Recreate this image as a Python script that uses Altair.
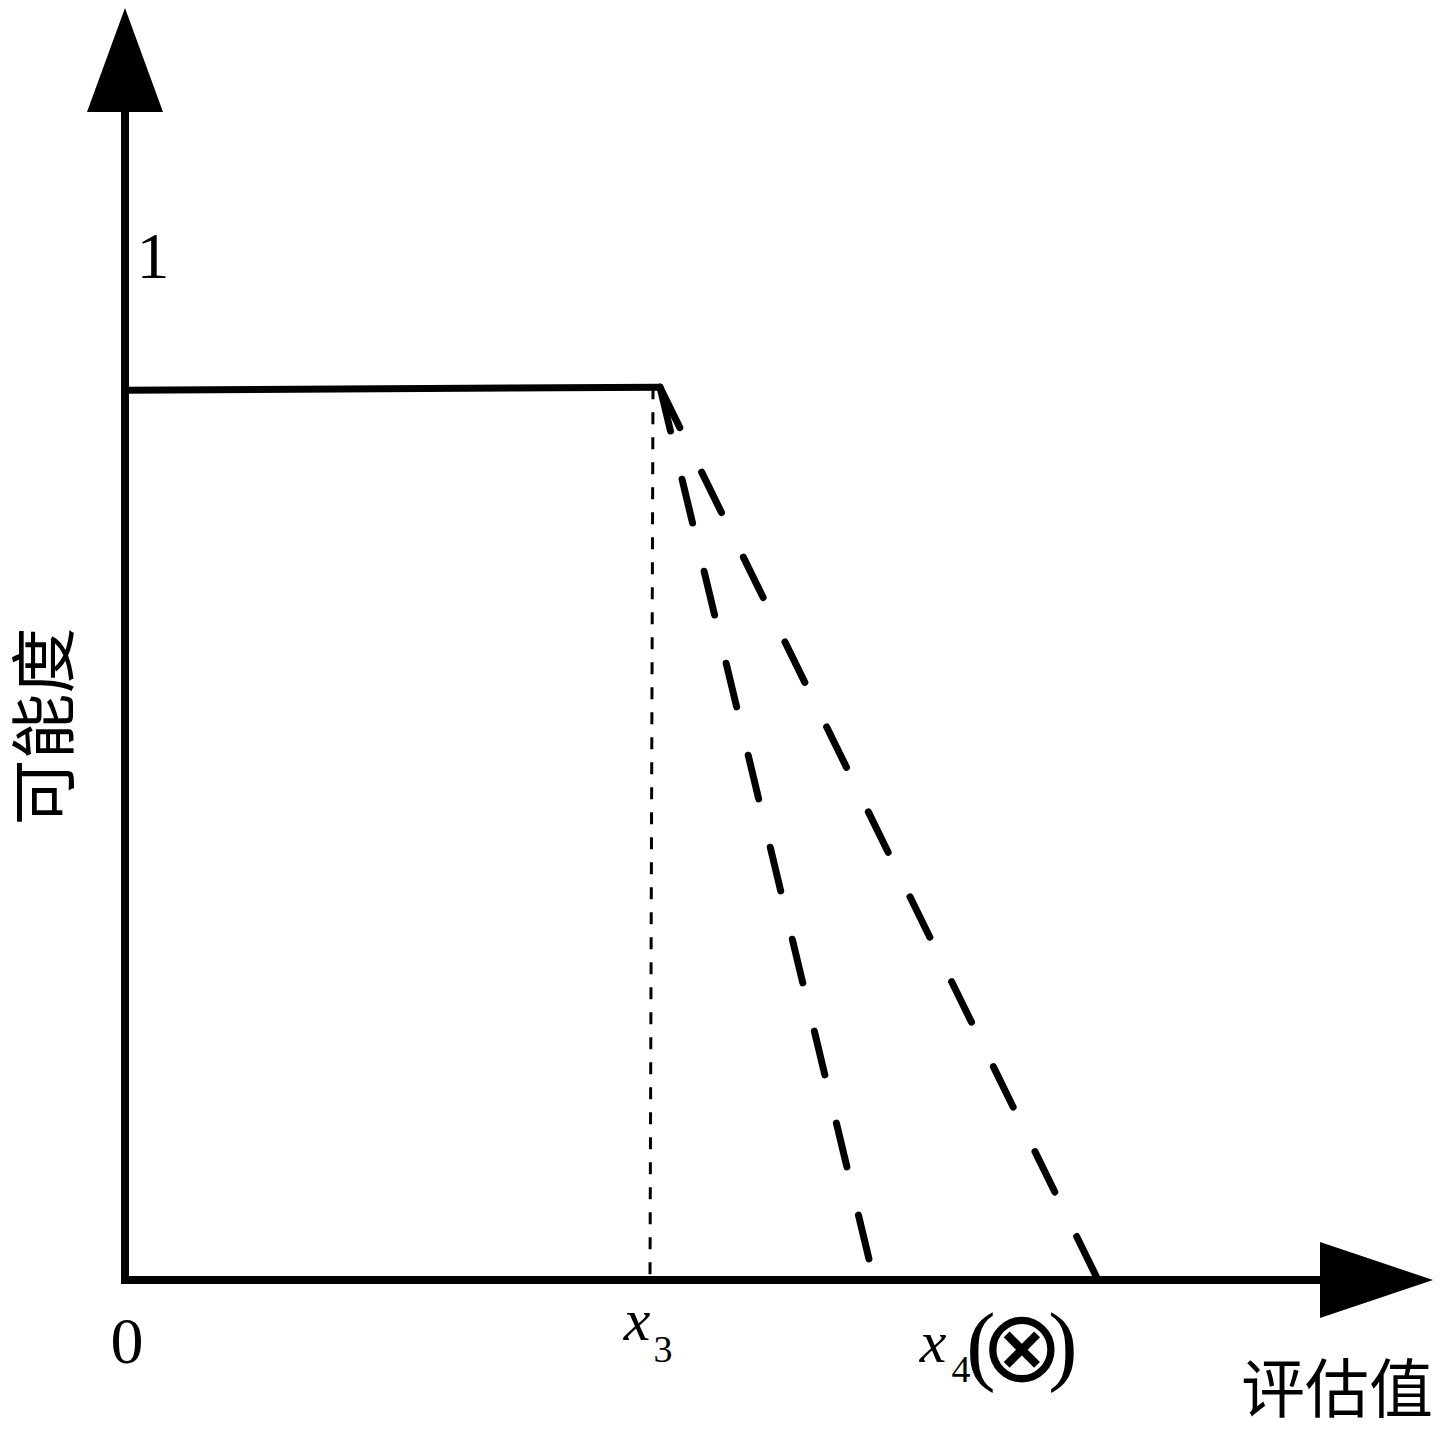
import altair as alt
import pandas as pd

# ---- values (abstract units) ----
X3 = 5.26                 # position of x3 (dotted guide)
PEAK_X = 5.35             # end of the plateau
PLATEAU_Y = [0.868, 0.871]
X4_ENDS = [7.49, 9.73]    # where the two dashed slopes reach zero
SERIES = ["a", "b"]
X_AXIS_END = 11.95
Y_AXIS_END = 1.1395

# scale extents (whole view)
W, H = 1430, 1412
XMIN, XMAX = -1.17, 13.13
YMIN, YMAX = -0.13659, 1.24098

xs = alt.Scale(domain=[XMIN, XMAX], nice=False, zero=False)
ys = alt.Scale(domain=[YMIN, YMAX], nice=False, zero=False)

def X(f="x"):
    return alt.X(f"{f}:Q", scale=xs, axis=None)

def Y(f="y"):
    return alt.Y(f"{f}:Q", scale=ys, axis=None)

# axes
axes_df = pd.DataFrame({
    "x": [0, 0], "x2": [X_AXIS_END, 0],
    "y": [0, 0], "y2": [0, Y_AXIS_END],
})
axes = alt.Chart(axes_df).mark_rule(color="black", strokeWidth=8, strokeCap="square").encode(
    x=X(), x2="x2:Q", y=Y(), y2="y2:Q")

arrow_up = alt.Chart(pd.DataFrame({"x": [0], "y": [Y_AXIS_END]})).mark_point(
    shape="M-0.731,0 L0,-2 L0.731,0 Z", size=104 * 104, filled=True, fill="black",
    strokeWidth=0, opacity=1).encode(x=X(), y=Y())
arrow_right = alt.Chart(pd.DataFrame({"x": [X_AXIS_END], "y": [0]})).mark_point(
    shape="M0,-0.673 L2,0 L0,0.673 Z", size=113 * 113, filled=True, fill="black",
    strokeWidth=0, opacity=1).encode(x=X(), y=Y())

# plateau
plateau_df = pd.DataFrame({"x": [0, PEAK_X], "y": PLATEAU_Y})
plateau = alt.Chart(plateau_df).mark_line(color="black", strokeWidth=7, strokeCap="round").encode(
    x=X(), y=Y())

# dashed slopes
rows = []
for s, xe in zip(SERIES, X4_ENDS):
    rows.append({"s": s, "o": 0, "x": PEAK_X, "y": PLATEAU_Y[1]})
    rows.append({"s": s, "o": 1, "x": xe, "y": 0})
slopes = alt.Chart(pd.DataFrame(rows)).mark_line(
    color="black", strokeWidth=7, strokeDash=[45, 49.6], strokeCap="round").encode(
    x=X(), y=Y(), detail="s:N", order="o:Q")

# dotted guide at x3
guide_df = pd.DataFrame({"x": [X3 + 0.02, X3 - 0.01], "y": [PLATEAU_Y[1], 0], "o": [0, 1]})
guide = alt.Chart(guide_df).mark_line(color="black", strokeWidth=3, strokeDash=[12, 13]).encode(
    x=X(), y=Y(), order="o:Q")

SERIF = "Liberation Serif"

def label(x, y, text, size, dx=0, dy=0, font=SERIF, style="normal", angle=0):
    return alt.Chart(pd.DataFrame({"x": [x], "y": [y], "t": [text]})).mark_text(
        font=font, fontSize=size, fontStyle=style, align="center", baseline="alphabetic",
        dx=dx, dy=dy, angle=angle, color="black").encode(x=X(), y=Y(), text="t:N")

texts = [
    label(0, 1, "1", 66, dx=28, dy=23),
    label(0, 0, "0", 66, dx=2, dy=83),
    label(X3, 0, "x", 60, dx=-14, dy=60, style="italic"),
    label(X3, 0, "3", 38, dx=12, dy=82),
    label(X4_ENDS[1], 0, "x", 60, dx=-165, dy=82, style="italic"),
    label(X4_ENDS[1], 0, "4", 38, dx=-137, dy=102),
    label(X4_ENDS[1], 0, "(", 88, dx=-117, dy=94),
    label(X4_ENDS[1], 0, "⊗", 100, dx=-76, dy=101, font="DejaVu Sans"),
    label(X4_ENDS[1], 0, ")", 88, dx=-35, dy=94),
    label(X_AXIS_END, 0, "评估值", 64, dx=17, dy=132, font="Noto Sans CJK SC"),
    label(0, 0.54, "可能度", 66, dy=-57, font="Noto Sans CJK SC", angle=270),
]

chart = alt.layer(axes, plateau, slopes, guide, arrow_up, arrow_right, *texts).properties(
    width=W, height=H, padding=0, autosize=alt.AutoSizeParams(type="none"),
    background="white",
).configure_view(stroke=None)

chart.save("out.html", embed_options={"renderer": "svg", "actions": False})
